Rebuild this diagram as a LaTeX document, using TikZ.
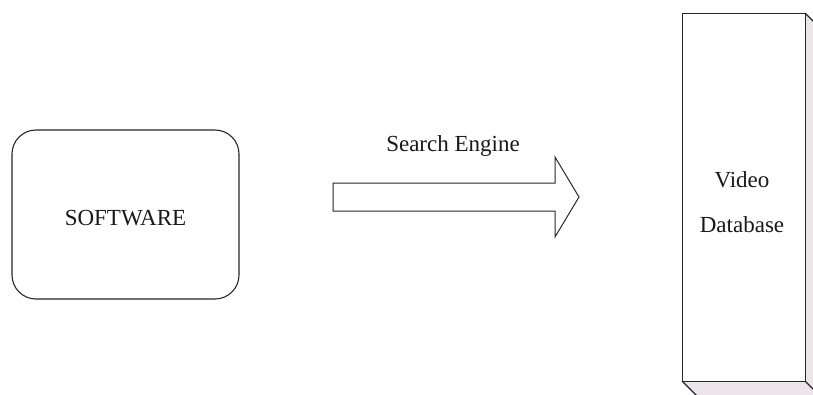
\documentclass[tikz,border=0pt]{standalone}
\usepackage{fontspec}
\setmainfont{Liberation Serif}
\definecolor{sideface}{RGB}{236,229,233}
\begin{document}
\begin{tikzpicture}[x=1pt,y=-1pt,
  outline/.style={draw=black!85, line width=1.1pt},
  lbl/.style={font=\fontsize{23}{45}\selectfont, text=black!90}]
\useasboundingbox (0,0) rectangle (813,394);
\clip (0,0) rectangle (813,394);
% software box
\node[outline, rounded corners=24pt, minimum width=227pt, minimum height=169pt, inner sep=0pt]
  (sw) at (125.5,214.5) {};
\node[lbl] (swt) at (125.5,218) {SOFTWARE};
% arrow
\coordinate (a1) at (333,183);
\coordinate (a2) at (555,183);
\coordinate (a3) at (555,157);
\coordinate (tip) at (579,197);
\coordinate (a4) at (555,237);
\coordinate (a5) at (555,211);
\coordinate (a6) at (333,211);
\draw[outline, line width=1pt, line join=miter] (a1) -- (a2) -- (a3) -- (tip) -- (a4) -- (a5) -- (a6) -- cycle;
\node[lbl] (se) at (453,146) {Search Engine};
% database block
\coordinate (fTL) at (682,13);
\coordinate (fTR) at (805,13);
\coordinate (fBR) at (805,381);
\coordinate (fBL) at (682,381);
\fill[sideface] (fTR) -- ++(16,16) -- ++(0,368) -- (fBR) -- cycle;
\fill[sideface] (fBL) -- (fBR) -- ++(16,16) -- ++(-123,0) -- cycle;
\draw[outline] (fTR) -- ++(16,16);
\draw[outline] (fBR) -- ++(16,16);
\draw[outline] (fBL) -- ++(16,16);
\node[outline, fill=white, minimum width=123pt, minimum height=368pt, inner sep=0pt, anchor=north west]
  (db) at (fTL) {};
\node[lbl, align=center] (dbt) at (742,202) {Video\\Database};
\end{tikzpicture}
\end{document}
